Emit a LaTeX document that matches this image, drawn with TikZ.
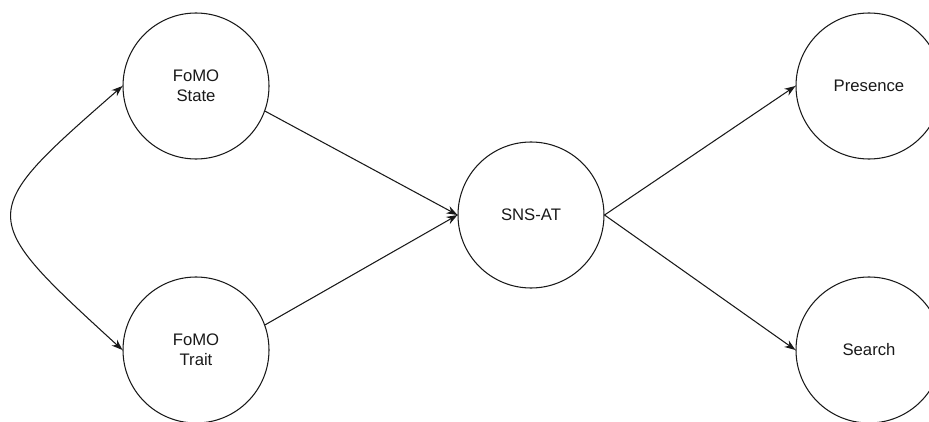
\documentclass[tikz,border=0pt]{standalone}
\usepackage{fontspec}
\setmainfont{Liberation Sans}
\usetikzlibrary{arrows.meta}
\definecolor{inkgray}{RGB}{25,25,25}

\begin{document}
\begin{tikzpicture}[
    bubble/.style={circle,draw=inkgray,line width=0.6pt,minimum size=2.92cm,
      inner sep=0pt,align=center,text=inkgray,font=\fontsize{9.5}{11.5}\selectfont},
    link/.style={-{Stealth[length=2.2mm,width=1.6mm]},line width=0.6pt,draw=inkgray},
    twoway/.style={link,{Stealth[length=2.2mm,width=1.6mm]}-{Stealth[length=2.2mm,width=1.6mm]}}]
  \useasboundingbox (0,0) rectangle (18.58,8.42);
  \node[bubble] (state) at (3.92,6.7) {FoMO\\State};
  \node[bubble] (trait) at (3.92,1.42) {FoMO\\Trait};
  \node[bubble] (snsat) at (10.62,4.12) {SNS-AT};
  \node[bubble] (presence) at (17.38,6.7) {Presence};
  \node[bubble] (search) at (17.38,1.42) {Search};
  % predictors
  \draw[link] (state.-20) -- (snsat.west);
  \draw[link] (trait.20) -- (snsat.west);
  % outcomes
  \draw[link] (snsat.east) -- (presence.west);
  \draw[link] (snsat.east) -- (search.west);
  \draw[twoway] (state.west) .. controls (-0.5,4.12) .. (trait.west);
\end{tikzpicture}
\end{document}
